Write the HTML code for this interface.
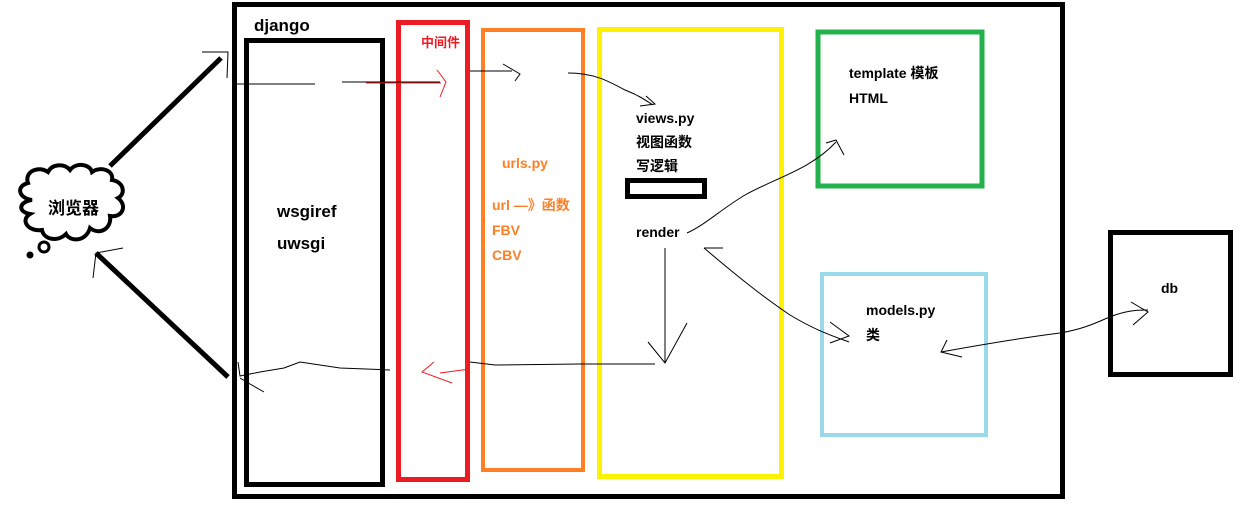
<!DOCTYPE html>
<html><head><meta charset="utf-8"><style>
html,body{margin:0;padding:0;background:#fff;}
svg{display:block}
text{font-family:"Liberation Sans","Noto Sans CJK SC",sans-serif;font-weight:bold;}
</style></head><body>
<svg width="1250" height="516" viewBox="0 0 1250 516" xmlns="http://www.w3.org/2000/svg">
<rect x="0" y="0" width="1250" height="516" fill="#fff"/>
<rect x="234.5" y="4.5" width="828" height="492" fill="none" stroke="#000" stroke-width="5"/>
<text x="254" y="31" font-size="17" fill="#000">django</text>
<rect x="246.5" y="40.5" width="136" height="444" fill="none" stroke="#000" stroke-width="5"/>
<text x="277" y="217" font-size="17" fill="#000">wsgiref</text>
<text x="277" y="249" font-size="17" fill="#000">uwsgi</text>
<rect x="398.5" y="22.5" width="69" height="457" fill="none" stroke="#ed1c24" stroke-width="5"/>
<text x="421" y="47" font-size="13" fill="#ed1c24">中间件</text>
<rect x="483" y="30" width="100" height="440" fill="none" stroke="#ff7f27" stroke-width="4"/>
<text x="502" y="168" font-size="14" fill="#ff7f27">urls.py</text>
<text x="492" y="210" font-size="14" fill="#ff7f27">url —》函数</text>
<text x="492" y="235" font-size="14" fill="#ff7f27">FBV</text>
<text x="492" y="260" font-size="14" fill="#ff7f27">CBV</text>
<rect x="599.5" y="29.5" width="182" height="447" fill="none" stroke="#fff200" stroke-width="5"/>
<text x="636" y="123" font-size="14" fill="#000">views.py</text>
<text x="636" y="147" font-size="14" fill="#000">视图函数</text>
<text x="636" y="171" font-size="14" fill="#000">写逻辑</text>
<rect x="627.5" y="180.5" width="77" height="16" fill="none" stroke="#000" stroke-width="5"/>
<text x="636" y="237" font-size="14" fill="#000">render</text>
<rect x="818" y="32" width="164" height="154" fill="none" stroke="#22b14c" stroke-width="5"/>
<text x="849" y="78" font-size="14" fill="#000">template 模板</text>
<text x="849" y="103" font-size="14" fill="#000">HTML</text>
<rect x="822" y="274" width="164" height="161" fill="none" stroke="#99d9ea" stroke-width="4"/>
<text x="866" y="315" font-size="14" fill="#000">models.py</text>
<text x="866" y="340" font-size="14" fill="#000">类</text>
<rect x="1110.5" y="232.5" width="120" height="142" fill="none" stroke="#000" stroke-width="5"/>
<text x="1161" y="293" font-size="14" fill="#000">db</text>
<!-- thick lines -->
<line x1="110" y1="166" x2="221" y2="58" stroke="#000" stroke-width="5"/>
<line x1="96" y1="253" x2="228" y2="377" stroke="#000" stroke-width="5"/>
<!-- cloud -->
<path d="M32,200 C18,198 16,186 28,183 C24,172 38,165 48,172 C52,164 64,163 70,170 C76,162 90,164 92,172 C100,166 114,170 112,180 C124,182 126,194 118,198 C128,206 122,218 110,216 C112,228 100,236 90,228 C86,242 70,242 66,234 C58,242 44,240 42,230 C28,232 20,220 30,214 C18,212 18,202 32,200 Z" fill="#fff" stroke="#000" stroke-width="4"/>
<circle cx="44" cy="247" r="5" fill="none" stroke="#000" stroke-width="3"/>
<circle cx="30" cy="255" r="3.5" fill="#000"/>
<text x="48" y="214" font-size="17" fill="#000">浏览器</text>
<g fill="none" stroke="#000" stroke-width="1">
<path d="M202,52 L228,52 L227,78"/>
<path d="M236,84 L315,84 M342,82 L440,82"/>
<path d="M470,71 L512,71 M503,64 L520,74 L515,81"/>
<path d="M568,73 C595,73 610,82 625,90 C640,96 645,100 653,105 M640,106 L655,104 L646,96"/>
<path d="M123,248 L96,253 L93,278"/>
<path d="M655,364 L580,364 L495,365 L470,362"/>
<path d="M390,370 L340,368 L300,362 L284,368 L260,372 L240,376 L238,362"/>
<path d="M240,378 L250,384 L264,392"/>
<path d="M665,248 L665,363 M648,342 L665,363 L687,323"/>
<path d="M687,233 C705,225 720,210 745,195 C775,178 810,170 836,142 M826,143 L836,140 L844,155"/>
<path d="M704,248 C730,270 760,295 790,315 C815,330 830,335 849,342 M830,322 L849,336 L830,343 M704,248 L723,248"/>
<path d="M941,352 C980,345 1020,338 1060,333 C1090,328 1105,318 1115,315 C1130,310 1140,310 1148,310 M1131,302 L1148,312 L1133,325 M947,340 L941,352 L962,357"/>
</g>
<g fill="none" stroke="#ed1c24" stroke-width="1">
<path d="M366,83 L441,83 M437,70 L446,82 L440,97"/>
<path d="M470,369 L440,373 M434,362 L422,372 L452,383"/>
</g>
</svg>
</body></html>
